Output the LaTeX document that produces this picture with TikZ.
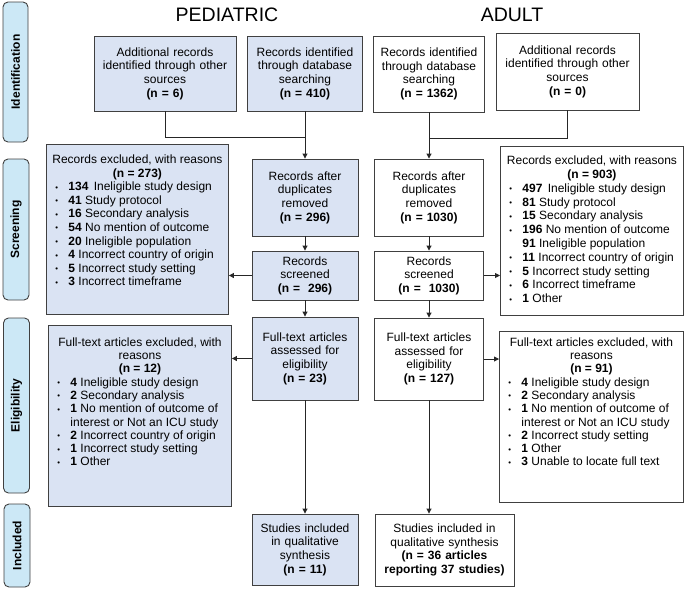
\documentclass[tikz,border=0pt]{standalone}
\usepackage{fontspec}
\setmainfont{Liberation Sans}
\usetikzlibrary{arrows.meta}
\definecolor{pedfill}{HTML}{DAE3F3}
\definecolor{lblfill}{HTML}{CCE8F6}
\definecolor{edgecol}{HTML}{404040}
\newcommand\fs{\fontsize{12}{13.6}\selectfont}
\newcommand\hdl[1]{\par{\centering\strut #1\par}}
\newcommand\bul[2]{\par\noindent\hspace*{9pt}\makebox[13pt][l]{\raisebox{0.6pt}{\scalebox{0.65}{•}}}\textbf{#1} #2\strut}
\newcommand\bulc[1]{\par\noindent\hspace*{22pt}#1\strut}
\tikzset{
  box/.style={draw=edgecol, line width=0.9pt, inner sep=0pt, align=center, font=\fs},
  ped/.style={box, fill=pedfill},
  adu/.style={box, fill=white},
  conn/.style={draw=black!85, line width=0.9pt},
  arr/.style={conn, -{Triangle[length=5pt,width=5pt]}},
  side/.style={draw=edgecol, fill=lblfill, rounded corners=5pt, line width=0.9pt, rotate=90,
    font=\bfseries\fontsize{12}{13}\selectfont, inner sep=0pt},
  ttl/.style={font=\fontsize{19.5}{22}\selectfont, inner sep=0pt},
}
\begin{document}
\begin{tikzpicture}[x=1pt,y=-1pt]
\useasboundingbox (0,0) rectangle (685,590);

% side labels
\node[side, minimum width=140, minimum height=25] (sId) at (15.5,72) {Identification};
\node[side, minimum width=141, minimum height=26] (sSc) at (16,229.5) {Screening};
\node[side, minimum width=175, minimum height=26] (sEl) at (16.5,405.5) {Eligibility};
\node[side, minimum width=83, minimum height=26] (sIn) at (17,545.5) {Included};

% titles
\node[ttl] (tP) at (227,15) {PEDIATRIC};
\node[ttl] (tA) at (512,15) {ADULT};

% pediatric column
\node[ped, minimum width=142, minimum height=75, text width=138] (addP) at (165,73.5)
  {Additional records\\identified through other\\sources\\\textbf{(n = 6)}};
\node[ped, minimum width=115, minimum height=75, text width=110] (recP) at (305,73.5)
  {Records identified\\through database\\searching\\\textbf{(n = 410)}};
\node[ped, minimum width=106, minimum height=77, text width=100] (dupP) at (305,197.5)
  {Records after\\duplicates\\removed\\\textbf{(n = 296)}};
\node[ped, minimum width=106, minimum height=49, text width=100] (scrP) at (305,275.5)
  {Records\\screened\\\textbf{(n =~~296)}};
\node[ped, minimum width=106, minimum height=83, text width=100] (ftP) at (305,358.5)
  {Full-text articles\\assessed for\\eligibility\\\textbf{(n = 23)}\\[4pt]};
\node[ped, minimum width=106, minimum height=71, text width=100] (stP) at (305,549.5)
  {Studies included\\in qualitative\\synthesis\\\textbf{(n = 11)}};

\node[ped, anchor=north west] (exP) at (46,144) {\begin{minipage}[t][170pt][t]{182pt}\fs\parskip=0pt
\vspace*{9.5pt}
\hdl{Records excluded, with reasons}
\hdl{\textbf{(n = 273)}}
\bul{134}{\,Ineligible study design}
\bul{41}{Study protocol}
\bul{16}{Secondary analysis}
\bul{54}{No mention of outcome}
\bul{20}{Ineligible population}
\bul{4}{Incorrect country of origin}
\bul{5}{Incorrect study setting}
\bul{3}{Incorrect timeframe}
\par\end{minipage}};

\node[ped, anchor=north west] (ftxP) at (48,325) {\begin{minipage}[t][181pt][t]{183pt}\fontsize{12}{13.3}\selectfont\parskip=0pt
\vspace*{11.5pt}
\hdl{Full-text articles excluded, with}
\hdl{reasons}
\hdl{\textbf{(n = 12)}}
\bul{4}{Ineligible study design}
\bul{2}{Secondary analysis}
\bul{1}{No mention of outcome of}
\bulc{interest or Not an ICU study}
\bul{2}{Incorrect country of origin}
\bul{1}{Incorrect study setting}
\bul{1}{Other}
\par\end{minipage}};

% adult column
\node[adu, minimum width=111, minimum height=76, text width=106] (recA) at (429,74)
  {Records identified\\through database\\searching\\\textbf{(n = 1362)}};
\node[adu, minimum width=143, minimum height=77, text width=138] (addA) at (567.5,71.5)
  {Additional records\\identified through other\\sources\\\textbf{(n = 0)}};
\node[adu, minimum width=109, minimum height=77, text width=104] (dupA) at (429,197.5)
  {Records after\\duplicates\\removed\\\textbf{(n = 1030)}};
\node[adu, minimum width=109, minimum height=49, text width=104] (scrA) at (429,275.5)
  {Records\\screened\\\textbf{(n =~~1030)}};
\node[adu, minimum width=109, minimum height=82, text width=104] (ftA) at (429,359)
  {Full-text articles\\assessed for\\eligibility\\\textbf{(n = 127)}\\[4pt]};
\node[adu, minimum width=139, minimum height=72, text width=134] (stA) at (444.5,550)
  {Studies included in\\qualitative synthesis\\\textbf{(n = 36 articles}\\\textbf{reporting 37 studies)}};

\node[adu, anchor=north west] (exA) at (500,146) {\begin{minipage}[t][169pt][t]{183pt}\fontsize{12}{13.8}\selectfont\parskip=0pt
\vspace*{8.5pt}
\hdl{Records excluded, with reasons}
\hdl{\textbf{(n = 903)}}
\bul{497}{\,Ineligible study design}
\bul{81}{Study protocol}
\bul{15}{Secondary analysis}
\bul{196}{No mention of outcome}
\bulc{\textbf{91} Ineligible population}
\bul{11}{Incorrect country of origin}
\bul{5}{Incorrect study setting}
\bul{6}{Incorrect timeframe}
\bul{1}{Other}
\par\end{minipage}};

\node[adu, anchor=north west] (ftxA) at (499,331) {\begin{minipage}[t][171pt][t]{184pt}\fontsize{12}{13.3}\selectfont\parskip=0pt
\vspace*{5.5pt}
\hdl{Full-text articles excluded, with}
\hdl{reasons}
\hdl{\textbf{(n = 91)}}
\bul{4}{Ineligible study design}
\bul{2}{Secondary analysis}
\bul{1}{No mention of outcome of}
\bulc{interest or Not an ICU study}
\bul{2}{Incorrect study setting}
\bul{1}{Other}
\bul{3}{Unable to locate full text}
\par\end{minipage}};

% connectors pediatric
\coordinate (jP) at (305,137);
\draw[conn] (addP.south) |- (jP);
\draw[arr] (recP.south) -- (dupP.north);
\draw[arr] (dupP.south) -- (scrP.north);
\draw[arr] (scrP.south) -- (ftP.north);
\draw[arr] (ftP.south) -- (stP.north);
\draw[arr] (scrP.west) -- (scrP.west -| exP.east);
\draw[arr] (ftP.west) -- (ftP.west -| ftxP.east);

% connectors adult
\coordinate (jA) at (429,138);
\draw[conn] (addA.south) |- (jA);
\draw[arr] (recA.south) -- (dupA.north);
\draw[arr] (dupA.south) -- (scrA.north);
\draw[arr] (scrA.south) -- (ftA.north);
\draw[arr] (ftA.south) -- (ftA.south |- stA.north);
\draw[arr] (scrA.east) -- (scrA.east -| exA.west);
\draw[arr] (ftA.east) -- (ftA.east -| ftxA.west);
\end{tikzpicture}
\end{document}
